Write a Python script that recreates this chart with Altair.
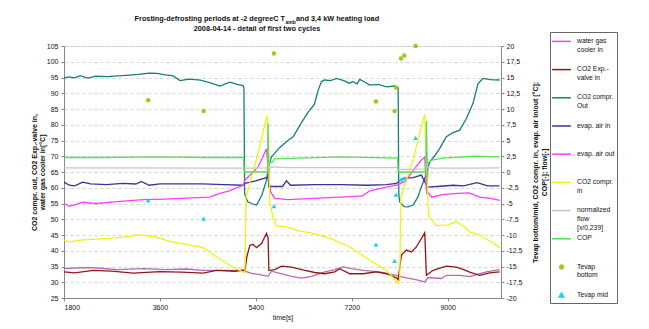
import altair as alt
import pandas as pd

FONT = "Liberation Sans"

# ---------------- texts ----------------
title_part1 = "Frosting-defrosting periods at -2 degreeC T"
title_sub = "amb"
title_part2 = " and 3,4 kW heating load"
title_line2 = "2008-04-14 - detail of first two cycles"

# ---------------- series names / colours ----------------
names = ["water gas|cooler in", "CO2 Exp.-|valve in", "CO2 compr.|Out", "evap. air in",
         "evap. air out", "CO2 compr.|in", "normalized|flow|[x/0,239]", "COP",
         "Tevap|bottom", "Tevap mid"]
colors = ["#b868b8", "#8e1818", "#12807c", "#34349a", "#ff3cff", "#f2f20c",
          "#c6c6c6", "#55e055", "#9acd14", "#22d0f0"]
# legend symbols (line stubs, dot, triangle), drawn a little lower to sit on the first label line
C = 1.45
legend_shapes = ([f"M-4,{C}H4"] * 8
                 + [f"M-0.8,{C}A0.8,0.8 0 1,1 0.8,{C}A0.8,0.8 0 1,1 -0.8,{C}Z",
                    f"M0,{C - 0.9}L1.0,{C + 0.8}L-1.0,{C + 0.8}Z"])

# ---------------- left axis series (time [s], value [°C]) ----------------
water_gas_cooler_in = [(1800, 34.3), (2100, 34.6), (2350, 34.6), (2800, 34.0), (3300, 34.3), (3700, 34.0),
                       (4100, 34.2), (4412, 33.8), (4800, 33.8), (5162, 33.8), (5300, 32.9), (5475, 32.4),
                       (5631, 31.9), (5694, 33.5), (5850, 32.8), (6069, 31.9), (6256, 31.3), (6444, 31.9),
                       (6694, 33.3), (6881, 34.0), (7037, 34.9), (7200, 34.3), (7412, 33.8), (7725, 33.3),
                       (8037, 32.2), (8200, 31.5), (8400, 30.8), (8569, 30.1), (8631, 31.5), (8881, 31.2),
                       (8975, 32.2), (9225, 32.2), (9412, 31.8), (9600, 32.7), (9725, 33.3), (9975, 34.0)]

co2_exp_valve_in = [(1800, 33.3), (2000, 33.0), (2350, 33.8), (2700, 33.5), (3100, 32.9), (3600, 33.4),
                    (4000, 33.2), (4412, 32.9), (4662, 33.8), (5000, 33.5), (5162, 33.8), (5194, 33.6),
                    (5230, 38.0), (5288, 41.7), (5350, 42.0), (5413, 41.0), (5506, 42.3), (5600, 45.5),
                    (5630, 44.0), (5644, 33.8), (5756, 34.0), (5881, 35.1), (6069, 34.8), (6319, 33.8),
                    (6506, 33.1), (6694, 32.7), (6881, 33.3), (6975, 34.3), (7162, 32.7), (7412, 32.7),
                    (7662, 33.3), (7850, 32.7), (8037, 31.4), (8069, 30.8), (8131, 38.6), (8225, 40.2),
                    (8319, 39.6), (8412, 41.2), (8569, 45.7), (8600, 32.2), (8725, 33.8), (8975, 35.1),
                    (9162, 34.8), (9300, 34.0), (9412, 33.2), (9600, 32.2), (9787, 33.0), (9975, 33.3)]

co2_compr_out = [(1800, 94.9), (1900, 95.2), (2000, 94.9), (2100, 95.6), (2250, 94.8), (2400, 95.4),
                 (2600, 95.3), (2900, 95.6), (3200, 96.0), (3400, 96.4), (3544, 96.3), (3700, 95.8),
                 (3850, 95.5), (3975, 94.0), (4150, 94.5), (4360, 94.2), (4550, 93.3), (4725, 92.3),
                 (4912, 93.5), (5050, 92.8), (5160, 92.4), (5176, 91.8), (5190, 58.0), (5250, 55.5),
                 (5320, 55.0), (5413, 54.5), (5512, 57.6), (5600, 62.4), (5630, 66.0), (5640, 60.0),
                 (5652, 67.5), (5694, 69.8), (5850, 72.8), (6000, 75.0), (6100, 76.2), (6250, 80.5),
                 (6381, 84.0), (6500, 86.5), (6569, 91.0), (6631, 93.7), (6694, 94.2), (6800, 94.0),
                 (6913, 94.7), (7050, 94.0), (7150, 93.2), (7225, 93.7), (7300, 93.0), (7350, 94.4),
                 (7450, 93.5), (7537, 92.6), (7700, 92.8), (7850, 92.0), (8006, 92.3), (8070, 91.8),
                 (8082, 58.0), (8100, 55.5), (8180, 54.0), (8256, 53.9), (8350, 54.5), (8440, 57.0),
                 (8506, 60.3), (8570, 63.0), (8600, 65.0), (8612, 58.0), (8625, 66.0), (8662, 68.2),
                 (8750, 70.0), (8850, 72.5), (8975, 76.2), (9100, 77.5), (9225, 78.3), (9350, 82.0),
                 (9475, 86.8), (9569, 93.1), (9662, 94.7), (9800, 94.3), (9975, 94.2)]

# ---------------- right axis series ----------------
evap_air_in = [(1800, -1.6), (1900, -2.1), (2000, -2.2), (2150, -1.6), (2300, -1.9), (2600, -2.0),
               (2900, -1.8), (3150, -1.9), (3250, -1.5), (3400, -2.1), (3600, -1.9), (4000, -1.9),
               (4400, -1.9), (4800, -2.0), (5162, -2.1), (5194, -1.8), (5400, -1.4), (5631, -0.8),
               (5660, -2.3), (5900, -2.3), (5975, -1.4), (6050, -2.1), (6500, -2.0), (7000, -2.0),
               (7500, -2.1), (7850, -2.0), (8037, -1.8), (8162, -1.0), (8350, -0.9), (8506, -0.5),
               (8620, -2.4), (8800, -2.3), (9100, -2.1), (9300, -2.2), (9550, -1.7), (9750, -2.2),
               (9975, -2.2)]

evap_air_out = [(1800, -5.0), (1900, -5.4), (2000, -5.2), (2150, -4.8), (2400, -5.0), (2800, -4.7),
                (3287, -4.4), (3700, -4.3), (4200, -4.1), (4537, -4.0), (4725, -3.4), (4900, -3.0),
                (5162, -2.1), (5194, -1.3), (5444, 0.8), (5600, 3.7), (5640, -1.0), (5680, -3.2),
                (5756, -4.2), (6000, -4.4), (6475, -4.2), (7000, -4.0), (7400, -3.8), (7537, -3.0),
                (7850, -2.4), (8069, -2.0), (8200, -1.5), (8475, 1.6), (8569, 2.4), (8600, -2.9),
                (8700, -4.0), (8900, -3.6), (9200, -3.4), (9400, -3.3), (9600, -4.0), (9800, -4.2),
                (9975, -4.5)]

co2_compr_in = [(1800, -10.8), (1913, -11.1), (2100, -10.8), (2500, -10.6), (2975, -10.3), (3162, -10.0),
                (3475, -10.2), (3787, -11.0), (4100, -11.5), (4412, -12.0), (4725, -13.8), (4950, -15.0),
                (5162, -15.9), (5194, -16.0), (5215, -4.0), (5413, 2.0), (5612, 9.0), (5640, 3.0),
                (5662, -5.0), (5725, -7.4), (5787, -8.5), (5975, -8.7), (6194, -9.3), (6444, -9.7),
                (6787, -10.5), (7162, -11.9), (7537, -14.0), (7850, -15.6), (8069, -17.7), (8100, -17.2),
                (8120, -4.0), (8350, 2.0), (8569, 9.2), (8600, 2.0), (8640, -7.0), (8787, -8.5),
                (9000, -8.4), (9162, -7.9), (9300, -8.6), (9412, -9.5), (9600, -10.0), (9800, -11.0),
                (9975, -12.0)]

normalized_flow = [(1800, 0.65), (3000, 0.65), (4500, 0.6), (5170, 0.6), (5400, 0.6), (5620, 0.65),
                   (5635, 1.2), (5660, 0.6), (5700, 0.8), (6000, 0.7), (7000, 0.7), (8060, 0.7),
                   (8075, 0.4), (8400, 0.45), (8590, 0.5), (8600, 3.2), (8615, 0.8), (8700, 0.6),
                   (9000, 0.6), (9500, 0.6), (9975, 0.65)]

cop = [(1800, 2.3), (2500, 2.3), (3500, 2.4), (4500, 2.3), (5170, 2.3), (5180, 0.0), (5620, 0.0),
       (5628, 7.7), (5640, 1.6), (5700, 1.5), (5756, 2.1), (6200, 2.2), (7000, 2.4), (8060, 2.2),
       (8070, 0.0), (8590, 0.0), (8600, 8.1), (8615, 1.4), (8700, 1.9), (8900, 2.2), (9500, 2.5),
       (9975, 2.4)]

tevap_t = [3380, 4420, 5740, 7654, 8003, 8029, 8122, 8184, 8397]
tevap_bottom = [11.4, 9.7, 18.8, 11.2, 9.7, 13.4, 18.0, 18.5, 20.0]
tevap_mid = [-4.5, -7.4, -5.4, -11.5, -14.1, -3.6, -1.2, -1.0, 5.4]


def frame(pts):
    return pd.DataFrame({"t": [p[0] for p in pts], "v": [p[1] for p in pts]})


x_axis = alt.Axis(values=[1800, 3600, 5400, 7200, 9000], format="d", title="time[s]",
                  labelFont=FONT, labelFontSize=7, labelColor="#111", labelPadding=2,
                  tickSize=3, tickColor="#888", domainColor="#888", grid=False,
                  titleFont=FONT, titleFontSize=7, titleFontWeight="normal", titleColor="#111",
                  titlePadding=3)
x_enc = alt.X("t:Q", scale=alt.Scale(domain=[1800, 10000], nice=False, zero=False), axis=x_axis)

left_axis = alt.Axis(orient="left", values=list(range(25, 106, 5)),
                     title=["CO2 compr. out, CO2 Exp.-valve in,", "water gas cooler in[°C]"],
                     labelFont=FONT, labelFontSize=7, labelColor="#111", labelPadding=3,
                     tickSize=3, tickColor="#888", domainColor="#888",
                     grid=True, gridDash=[3, 3], gridColor="#c8c8c8", gridWidth=0.8,
                     titleFont=FONT, titleFontSize=7, titleFontWeight="bold", titleColor="#111",
                     titleAngle=270, titleX=-30, titleY=126, titleAlign="center",
                     titleBaseline="middle", titleLineHeight=8.5)

right_vals = [-20 + 2.5 * i for i in range(17)]
right_axis = alt.Axis(orient="right", values=right_vals,
                      labelExpr="replace(toString(datum.value), '.', ',')",
                      title=["Tevap bottom/mid, CO2 compr. in, evap. air in/out [°C];", "COP[-]; flow[-]"],
                      labelFont=FONT, labelFontSize=7, labelColor="#111", labelPadding=2,
                      tickSize=3, tickColor="#888", domainColor="#888", grid=False,
                      titleFont=FONT, titleFontSize=7, titleFontWeight="bold", titleColor="#111",
                      titleAngle=270, titleX=34, titleY=126, titleAlign="center",
                      titleBaseline="middle", titleLineHeight=9)

left_y = alt.Y("v:Q", scale=alt.Scale(domain=[25, 105], nice=False, zero=False), axis=left_axis)
right_y = alt.Y("v:Q", scale=alt.Scale(domain=[-20, 20], nice=False, zero=False), axis=right_axis)

left_series = [water_gas_cooler_in, co2_exp_valve_in, co2_compr_out]
right_series = [evap_air_in, evap_air_out, co2_compr_in, normalized_flow, cop]

left_layers = [alt.Chart(frame(s)).mark_line(strokeWidth=1.3, color=colors[i]).encode(x=x_enc, y=left_y)
               for i, s in enumerate(left_series)]
right_layers = [alt.Chart(frame(s)).mark_line(strokeWidth=1.3, color=colors[3 + i]).encode(x=x_enc, y=right_y)
                for i, s in enumerate(right_series)]

pts_bottom = alt.Chart(pd.DataFrame({"t": tevap_t, "v": tevap_bottom})).mark_point(
    filled=True, size=20, opacity=1, shape="circle", color=colors[8]).encode(x=x_enc, y=right_y)
pts_mid = alt.Chart(pd.DataFrame({"t": tevap_t, "v": tevap_mid})).mark_point(
    filled=True, size=24, opacity=1, shape="triangle-up", color=colors[9]).encode(x=x_enc, y=right_y)

legend = alt.Legend(title=None, orient="none", legendX=486, legendY=-14,
                    labelExpr="split(datum.label, '|')", labelFont=FONT, labelFontSize=6.8,
                    labelColor="#111", labelBaseline="top", labelOffset=12, labelLimit=80,
                    symbolOffset=5.5, symbolSize=22, symbolStrokeWidth=1.5,
                    rowPadding=0.2, gridAlign="all", padding=2.5,
                    strokeColor="#666", fillColor="white")

df_legend = pd.DataFrame({"t": [1800.0] * len(names), "v": [-100.0] * len(names), "series": names})
legend_layer = alt.Chart(df_legend).mark_point(filled=True, size=22, opacity=1, strokeWidth=1,
                                               clip=True).encode(
    x=x_enc, y=right_y,
    stroke=alt.Stroke("series:N", scale=alt.Scale(domain=names, range=colors), legend=legend),
    fill=alt.Fill("series:N", scale=alt.Scale(domain=names, range=colors), legend=legend),
    shape=alt.Shape("series:N", scale=alt.Scale(domain=names, range=legend_shapes), legend=legend),
)

# ---------------- chart title (with subscript), placed above the plot ----------------
title_df = pd.DataFrame({"a": [title_part1], "b": [title_sub], "c": [title_part2], "d": [title_line2]})
title_base = alt.Chart(title_df)
t1 = title_base.mark_text(font=FONT, fontSize=7.3, fontWeight="bold", color="#111", align="right",
                          baseline="middle").encode(x=alt.value(221), y=alt.value(-27), text="a:N")
t2 = title_base.mark_text(font=FONT, fontSize=5, fontWeight="bold", color="#111", align="left",
                          baseline="middle").encode(x=alt.value(221.5), y=alt.value(-24.5), text="b:N")
t3 = title_base.mark_text(font=FONT, fontSize=7.3, fontWeight="bold", color="#111", align="left",
                          baseline="middle").encode(x=alt.value(232), y=alt.value(-27), text="c:N")
t4 = title_base.mark_text(font=FONT, fontSize=7.3, fontWeight="bold", color="#111", align="center",
                          baseline="middle").encode(x=alt.value(193), y=alt.value(-17), text="d:N")

left = alt.layer(*left_layers)
right = alt.layer(*right_layers, pts_bottom, pts_mid, legend_layer)

chart = alt.layer(left, right, t1, t2, t3, t4).resolve_scale(y="independent").properties(
    width=437, height=252,
    autosize=alt.AutoSizeParams(type="none"),
    padding={"left": 64, "top": 46, "right": 148, "bottom": 31},
).configure_view(stroke="#999", strokeWidth=1).configure(background="white")

chart.save("out.html", embed_options={"renderer": "svg", "actions": False})
